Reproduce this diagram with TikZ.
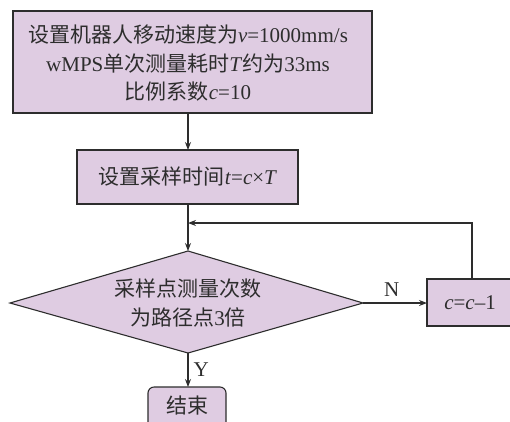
\documentclass[tikz,border=0pt]{standalone}
\usepackage{fontspec}
\setmainfont{Liberation Serif}
\newfontfamily\cjk{Noto Sans CJK SC}
\usetikzlibrary{arrows.meta,shapes.geometric}
\definecolor{boxfill}{RGB}{223,204,226}
\definecolor{ink}{RGB}{45,45,45}
\tikzset{
  stepbox/.style={draw=ink,line width=1.1pt,fill=boxfill},
  conn/.style={draw=ink,line width=1.1pt,-{Stealth[length=8pt,width=6pt]}},
  txt/.style={text=ink,font=\fontsize{21}{28.5}\selectfont,align=center,inner sep=0pt}
}
\begin{document}
\begin{tikzpicture}[x=1pt,y=-1pt]
\useasboundingbox (0,0) rectangle (510,421);
\clip (0,0) rectangle (510,421);
% boxes
\path[stepbox] (13,11) rectangle (372,113);
\node[txt] (b1) at (188,63) {{\cjk 设置机器人移动速度为}\textit{v}=1000mm/s\\wMPS{\cjk 单次测量耗时}\textit{T}{\cjk 约为}33ms\\{\cjk 比例系数}\textit{c}=10};
\coordinate (b1s) at (188,113);
\path[stepbox] (77,150) rectangle (298,204);
\node[txt] (b2) at (188,177) {{\cjk 设置采样时间}\textit{t}=\textit{c}×\textit{T}};
\coordinate (b2n) at (188,150);
\coordinate (b2s) at (188,204);
% diamond
\path[stepbox] (10,303) -- (188,251) -- (363,303) -- (188,353) -- cycle;
\coordinate (dn) at (188,251);
\coordinate (ds) at (188,353);
\coordinate (de) at (363,303);
\node[txt] (d) at (188,303) {{\cjk 采样点测量次数}\\{\cjk 为路径点}3{\cjk 倍}};
% c=c-1 box
\path[stepbox] (427,279) rectangle (520,326);
\node[txt] (cc) at (470,302.5) {\textit{c}=\textit{c}–1};
\coordinate (ccw) at (427,303);
\coordinate (ccn) at (472,279);
% end box
\path[stepbox,rounded corners=6pt] (148,387) rectangle (226,440);
\node[txt] (e) at (187,405) {\cjk 结束};
\coordinate (en) at (188,387);
% connectors
\coordinate (jn) at (188,223);
\coordinate (lc) at (472,223);
\draw[conn] (b1s) -- (b2n);
\draw[conn] (b2s) -- (dn);
\draw[conn] (ccn) -- (lc) -- (jn);
\draw[conn] (de) -- node[txt,above=6pt,pos=0.45] {N} (ccw);
\draw[conn] (ds) -- node[txt,right=5pt,pos=0.5] {Y} (en);
\end{tikzpicture}
\end{document}
